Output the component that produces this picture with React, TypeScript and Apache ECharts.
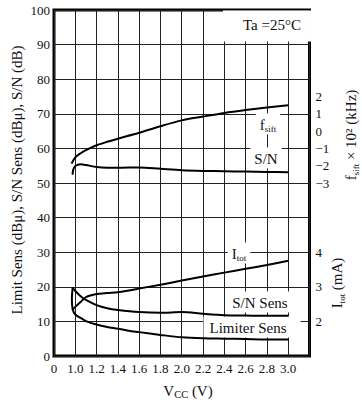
import React, { useEffect, useRef } from 'react';
import * as echarts from 'echarts';

// Vcc (V) sample positions and values
const fsiftVcc = [0.965, 1.0, 1.05, 1.1, 1.2, 1.3, 1.4, 1.6, 1.8, 2.0, 2.2, 2.4, 2.6, 2.8, 3.0];
const fsiftVal = [-1.88, -1.52, -1.28, -1.1, -0.82, -0.62, -0.44, -0.1, 0.28, 0.62, 0.84, 1.05, 1.22, 1.37, 1.5]; // x10^2 kHz

const snVcc = [0.975, 0.98, 1.0, 1.05, 1.1, 1.2, 1.3, 1.4, 1.6, 1.8, 2.0, 2.2, 2.4, 2.6, 2.8, 3.0];
const snDb = [52.4, 53.8, 54.9, 55.4, 55.2, 54.6, 54.4, 54.4, 54.5, 54.1, 53.7, 53.5, 53.4, 53.3, 53.2, 53.1];

const itotVcc = [0.97, 1.0, 1.05, 1.1, 1.2, 1.3, 1.4, 1.5, 1.6, 1.8, 2.0, 2.2, 2.4, 2.6, 2.8, 3.0];
const itotMa = [2.33, 2.42, 2.56, 2.7, 2.79, 2.82, 2.84, 2.89, 2.95, 3.06, 3.18, 3.3, 3.41, 3.52, 3.63, 3.75];

const snSensVcc = [0.975, 1.0, 1.05, 1.1, 1.2, 1.3, 1.4, 1.6, 1.8, 2.0, 2.2, 2.4, 2.6, 2.8, 3.0];
const snSensDb = [19.8, 18.8, 17.3, 16.2, 14.7, 13.8, 13.3, 12.7, 12.5, 12.7, 12.2, 11.8, 11.7, 11.6, 11.6];

const limVcc = [0.975, 0.968, 0.975, 1.0, 1.05, 1.1, 1.2, 1.3, 1.4, 1.5, 1.6, 1.8, 2.0, 2.2, 2.4, 2.6, 2.8, 3.0];
const limDb = [19.8, 16.5, 13.6, 12.0, 11.0, 10.1, 9.1, 8.4, 7.9, 7.3, 6.9, 6.1, 5.4, 5.1, 5.0, 4.9, 4.8, 4.8];

const xMin = 0.8; // drawn as "0" (broken axis)
const xMax = 3.2;
const xStep = 0.2;
const leftTicks = { min: 0, max: 100, step: 10 };
const fsiftShown = [-3, -2, -1, 0, 1, 2];
const itotShown = [2, 3, 4];

const FONT = 'Liberation Serif, Times New Roman, serif';

const zip = (xs: number[], ys: number[]) => xs.map((x, i) => [x, ys[i]]);

const rich = {
  m: { fontSize: 15, fontFamily: FONT, lineHeight: 18, verticalAlign: 'middle', fill: '#111', color: '#111' },
  s: { fontSize: 9, fontFamily: FONT, lineHeight: 9, verticalAlign: 'bottom', fill: '#111', color: '#111' },
  c: { fontSize: 10.5, fontFamily: FONT, lineHeight: 11, verticalAlign: 'bottom', fill: '#111', color: '#111' },
};

function label(text: string, x: number, y: number, box = true, rotation = 0, pad: number[] = [2, 4, 1, 4]) {
  return {
    type: 'text',
    x,
    y,
    rotation,
    z: box ? 1 : 5,
    style: {
      text,
      rich,
      fontSize: 15,
      fontFamily: FONT,
      fill: '#111',
      align: 'center',
      verticalAlign: 'middle',
      textAlign: 'center',
      textVerticalAlign: 'middle',
      backgroundColor: box ? '#fff' : undefined,
      padding: box ? pad : 0,
    },
  };
}

export default function App() {
  const ref = useRef<HTMLDivElement>(null);
  useEffect(() => {
    document.body.style.margin = '0';
    const chart = echarts.init(ref.current!, undefined, { renderer: 'svg' });
    const lineSeries = (data: number[][], yAxisIndex: number) => ({
      type: 'line',
      data,
      yAxisIndex,
      symbol: 'none',
      smooth: 0.3,
      z: 3,
      lineStyle: { color: '#000', width: 2 },
    });
    const tickLabel = { fontFamily: FONT, fontSize: 13, color: '#111' };
    chart.setOption({
      animation: false,
      backgroundColor: '#fff',
      textStyle: { fontFamily: FONT },
      grid: {
        left: 54,
        top: 10,
        width: 255.5,
        height: 346,
        show: true,
        borderColor: '#000',
        borderWidth: 3,
        backgroundColor: 'transparent',
      },
      xAxis: {
        type: 'value',
        min: xMin,
        max: xMax,
        interval: xStep,
        axisLine: { show: false },
        axisTick: { show: false },
        splitLine: { show: true, lineStyle: { color: '#222', width: 1 } },
        axisLabel: {
          ...tickLabel,
          margin: 6,
          showMinLabel: true,
          showMaxLabel: true,
          formatter: (v: number) =>
            Math.abs(v - xMin) < 1e-6 ? '0' : v > 3.1 ? '' : v.toFixed(1),
        },
      },
      yAxis: [
        {
          type: 'value',
          min: leftTicks.min,
          max: leftTicks.max,
          interval: leftTicks.step,
          position: 'left',
          axisLine: { show: false },
          axisTick: { show: false },
          splitLine: { show: true, lineStyle: { color: '#222', width: 1 } },
          axisLabel: { ...tickLabel, margin: 4 },
        },
        {
          type: 'value',
          min: -13,
          max: 7,
          interval: 1,
          position: 'right',
          axisLine: { show: false },
          axisTick: { show: false },
          splitLine: { show: false },
          axisLabel: {
            ...tickLabel,
            margin: 6,
            formatter: (v: number) => {
              const r = Math.round(v);
              if (!fsiftShown.includes(r)) return '';
              return r < 0 ? '\u2212' + Math.abs(r) : String(r);
            },
          },
        },
        {
          type: 'value',
          min: 1,
          max: 11,
          interval: 1,
          position: 'right',
          axisLine: { show: false },
          axisTick: { show: false },
          splitLine: { show: false },
          axisLabel: {
            ...tickLabel,
            margin: 6,
            formatter: (v: number) => (itotShown.includes(Math.round(v)) ? String(Math.round(v)) : ''),
          },
        },
      ],
      series: [
        lineSeries(zip(fsiftVcc, fsiftVal), 1),
        lineSeries(zip(snVcc, snDb), 0),
        lineSeries(zip(itotVcc, itotMa), 2),
        lineSeries(zip(snSensVcc, snSensDb), 0),
        lineSeries(zip(limVcc, limDb), 0),
      ],
      graphic: [
        label('{m|Ta =25°C}', 267, 26, true, 0, [5, 10, 8, 20]),
        label('{m|f}{s|sift}', 268, 124),
        label('{m|S/N}', 266, 158),
        label('{m|I}{s|tot}', 239, 253),
        label('{m|S/N Sens}', 260, 302),
        label('{m|Limiter Sens}', 252, 327, true, 0, [2, 14, 1, 6]),
        label('{m|Limit Sens (dBμ), S/N Sens (dBμ), S/N (dB)}', 17, 180, false, Math.PI / 2),
        label('{m|f}{s|sift}{m| × 10² (kHz)}', 351, 135, false, Math.PI / 2),
        label('{m|I}{s|tot}{m| (mA)}', 337, 283, false, Math.PI / 2),
        label('{m|V}{c|CC}{m| (V)}', 188, 391, false),
      ],
    });
    return () => chart.dispose();
  }, []);
  return <div ref={ref} style={{ position: 'fixed', left: 0, top: 0, width: 362, height: 402 }} />;
}
